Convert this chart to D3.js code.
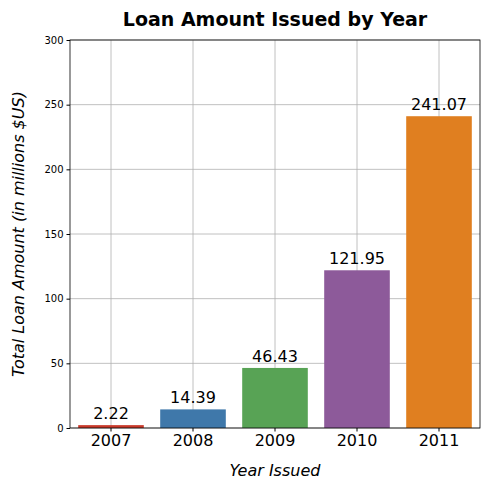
<!DOCTYPE html>
<html><head><meta charset="utf-8">
<script src="https://cdn.jsdelivr.net/npm/d3@7"></script>
<style>body{margin:0;background:#fff;font-family:"DejaVu Sans",sans-serif}</style>
</head><body><svg id="c" width="490" height="490"></svg>
<script>
var years = ["2007", "2008", "2009", "2010", "2011"];
var amounts = [2.22, 14.39, 46.43, 121.95, 241.07];
var colors = ["#c93a2b", "#3f78aa", "#58a355", "#8d5a9a", "#e07f20"];
var yTicks = [0, 50, 100, 150, 200, 250, 300];

var svg = d3.select("#c");
var m = {left: 70, right: 480, top: 40, bottom: 428};

var x = d3.scaleBand().domain(years).range([m.left, m.right]).paddingInner(0.2).paddingOuter(0.1);
var y = d3.scaleLinear().domain([0, 300]).range([m.bottom, m.top]);

// grid
svg.append("g").selectAll("line").data(yTicks).join("line")
  .attr("x1", m.left).attr("x2", m.right)
  .attr("y1", d => y(d)).attr("y2", d => y(d))
  .attr("stroke", "#b0b0b0").attr("stroke-width", 0.8);
svg.append("g").selectAll("line").data(years).join("line")
  .attr("x1", d => x(d) + x.bandwidth() / 2).attr("x2", d => x(d) + x.bandwidth() / 2)
  .attr("y1", m.top).attr("y2", m.bottom)
  .attr("stroke", "#b0b0b0").attr("stroke-width", 0.8);

// bars
svg.append("g").selectAll("rect").data(years).join("rect")
  .attr("x", d => x(d)).attr("width", x.bandwidth())
  .attr("y", (d, i) => y(amounts[i])).attr("height", (d, i) => y(0) - y(amounts[i]))
  .attr("fill", (d, i) => colors[i]);

svg.append("g").selectAll("text").data(years).join("text")
  .attr("x", d => x(d) + x.bandwidth() / 2)
  .attr("y", (d, i) => y(amounts[i]) - 6)
  .attr("text-anchor", "middle").attr("font-size", 16)
  .text((d, i) => amounts[i].toFixed(2));

// axes
var ya = svg.append("g").attr("transform", "translate(" + m.left + ",0)")
  .call(d3.axisLeft(y).tickValues(yTicks).tickSize(3.5).tickPadding(3));
ya.selectAll("text").attr("font-size", 10).attr("font-family", "DejaVu Sans").attr("fill", "#000");
var xa = svg.append("g").attr("transform", "translate(0," + m.bottom + ")")
  .call(d3.axisBottom(x).tickSize(3.5).tickPadding(3));
xa.selectAll("text").attr("font-size", 16).attr("font-family", "DejaVu Sans").attr("fill", "#000");
svg.selectAll(".domain").remove();
svg.append("rect").attr("x", m.left).attr("y", m.top)
  .attr("width", m.right - m.left).attr("height", m.bottom - m.top)
  .attr("fill", "none").attr("stroke", "#000").attr("stroke-width", 0.8);

// labels
svg.append("text").attr("x", (m.left + m.right) / 2).attr("y", 26)
  .attr("text-anchor", "middle").attr("font-size", 19).attr("font-weight", "bold")
  .text("Loan Amount Issued by Year");
svg.append("text").attr("x", (m.left + m.right) / 2).attr("y", 476)
  .attr("text-anchor", "middle").attr("font-size", 16).attr("font-style", "italic")
  .text("Year Issued");
svg.append("text").attr("transform", "translate(24," + (m.top + m.bottom) / 2 + ") rotate(-90)")
  .attr("text-anchor", "middle").attr("font-size", 16).attr("font-style", "italic")
  .text("Total Loan Amount (in millions $US)");
</script></body></html>
